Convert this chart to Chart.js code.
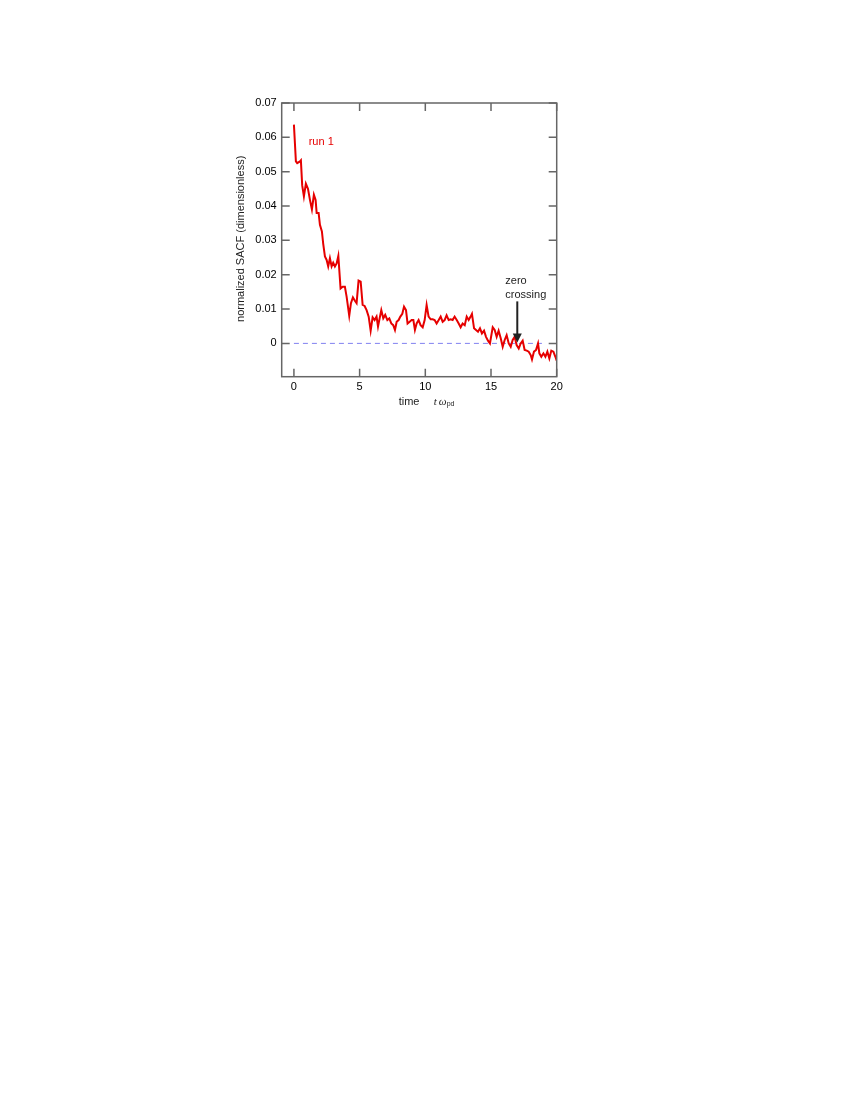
<!DOCTYPE html>
<html>
<head>
<meta charset="utf-8">
<script src="https://cdn.jsdelivr.net/npm/chart.js@4/dist/chart.umd.min.js"></script>
<style>
  body { margin: 0; background: #fff; }
  #chart { position: absolute; left: 200px; top: 80px; }
</style>
</head>
<body>
<canvas id="chart" width="400" height="350" style="width:400px;height:350px"></canvas>
<script>
const timeValues = [
  0, 0.15, 0.25, 0.46, 0.53, 0.63, 0.76, 0.91, 1.07, 1.22, 1.37, 1.52, 1.65, 1.73, 1.88, 1.98,
  2.13, 2.23, 2.36, 2.49, 2.61, 2.74, 2.87, 2.99, 3.12, 3.25, 3.38, 3.55, 3.71, 3.88, 4.01,
  4.21, 4.34, 4.49, 4.64, 4.77, 4.92, 5.08, 5.23, 5.38, 5.53, 5.69, 5.84, 5.99, 6.14, 6.29,
  6.4, 6.55, 6.65, 6.8, 6.95, 7.11, 7.26, 7.41, 7.56, 7.69, 7.82, 7.97, 8.1, 8.25, 8.38,
  8.53, 8.65, 8.81, 8.96, 9.09, 9.21, 9.34, 9.49, 9.64, 9.8, 9.95, 10.1, 10.25, 10.41, 10.56,
  10.71, 10.86, 11.02, 11.17, 11.32, 11.47, 11.62, 11.78, 11.93, 12.08, 12.23, 12.39, 12.54,
  12.69, 12.84, 13.0, 13.15, 13.3, 13.45, 13.55, 13.71, 13.86, 14.01, 14.16, 14.31, 14.47,
  14.62, 14.77, 14.92, 15.13, 15.28, 15.43, 15.58, 15.74, 15.89, 16.04, 16.19, 16.35, 16.5,
  16.65, 16.8, 16.95, 17.11, 17.26, 17.41, 17.56, 17.72, 17.87, 18.02, 18.12, 18.27, 18.43,
  18.58, 18.68, 18.83, 18.99, 19.14, 19.29, 19.44, 19.59, 19.75, 19.9, 20
];
const sacfValues = [
  0.0637, 0.053, 0.0525, 0.053, 0.0533, 0.046, 0.0428, 0.0465, 0.045, 0.0418, 0.039, 0.0433,
  0.0418, 0.038, 0.038, 0.0345, 0.0326, 0.029, 0.0253, 0.0243, 0.0224, 0.0248, 0.0224, 0.0235,
  0.0224, 0.0233, 0.0255, 0.016, 0.0165, 0.0165, 0.0136, 0.008, 0.0117, 0.0134, 0.0124, 0.0117,
  0.0183, 0.018, 0.0112, 0.0109, 0.0097, 0.0078, 0.0037, 0.0076, 0.0068, 0.0078, 0.0049, 0.0078,
  0.0097, 0.0073, 0.0083, 0.0068, 0.0073, 0.0058, 0.0053, 0.0039, 0.0063, 0.0068, 0.0078, 0.0086,
  0.0107, 0.0097, 0.0058, 0.0063, 0.0068, 0.0068, 0.0039, 0.0058, 0.0068, 0.0053, 0.0047, 0.0068,
  0.0112, 0.0078, 0.007, 0.007, 0.0068, 0.0058, 0.0068, 0.0078, 0.0063, 0.0068, 0.0082, 0.0068,
  0.007, 0.0068, 0.0078, 0.0068, 0.0058, 0.0047, 0.0058, 0.0053, 0.0078, 0.0068, 0.0078, 0.0086,
  0.0044, 0.0039, 0.0034, 0.0044, 0.0029, 0.0037, 0.0019, 0.0008, 0.0, 0.0047, 0.0039, 0.0019,
  0.0037, 0.0015, -0.001, 0.001, 0.0024, 0.0, -0.001, 0.001, 0.0019, -0.0005, -0.0015, 0.0,
  0.0008, -0.0019, -0.0021, -0.0024, -0.0034, -0.0047, -0.0024, -0.0019, 0.0, -0.0029, -0.0039,
  -0.0029, -0.0039, -0.0024, -0.0044, -0.0021, -0.0024, -0.0039, -0.005
];
const xTicks = [0, 5, 10, 15, 20];
const yTicks = [0, 0.01, 0.02, 0.03, 0.04, 0.05, 0.06, 0.07];
const zeroLine = [[0, 0], [19, 0]];
const crossingTime = 17;

const points = timeValues.map((t, i) => ({ x: t, y: sacfValues[i] }));

// frame, inward ticks on all four sides, labels, arrow
const decorations = {
  id: 'decorations',
  afterDraw(chart) {
    const { ctx, chartArea: a, scales } = chart;
    const x = scales.x, y = scales.y;
    ctx.save();
    ctx.strokeStyle = '#666';
    ctx.lineWidth = 1.5;
    ctx.strokeRect(a.left, a.top, a.right - a.left, a.bottom - a.top);
    ctx.beginPath();
    xTicks.forEach(v => {
      const px = x.getPixelForValue(v);
      ctx.moveTo(px, a.bottom); ctx.lineTo(px, a.bottom - 8);
      ctx.moveTo(px, a.top); ctx.lineTo(px, a.top + 8);
    });
    yTicks.forEach(v => {
      const py = y.getPixelForValue(v);
      ctx.moveTo(a.left, py); ctx.lineTo(a.left + 8, py);
      ctx.moveTo(a.right, py); ctx.lineTo(a.right - 8, py);
    });
    ctx.stroke();

    // run label
    ctx.fillStyle = '#e60000';
    ctx.font = '11px "Liberation Sans", Arial, sans-serif';
    ctx.textBaseline = 'middle';
    ctx.fillText('run 1', a.left + 27, a.top + 39);

    // axis titles
    ctx.fillStyle = '#222';
    ctx.save();
    ctx.translate(a.left - 41, (a.top + a.bottom) / 2 - 1);
    ctx.rotate(-Math.PI / 2);
    ctx.textAlign = 'center';
    ctx.fillText('normalized SACF (dimensionless)', 0, 0);
    ctx.restore();

    ctx.textAlign = 'left';
    ctx.fillText('time', a.left + 117, a.bottom + 25);
    ctx.font = 'italic 11px "Liberation Serif", "Times New Roman", serif';
    ctx.fillText('t', a.left + 152, a.bottom + 25);
    ctx.fillText('ω', a.left + 157, a.bottom + 25);
    ctx.font = '7px "Liberation Sans", Arial, sans-serif';
    ctx.fillText('pd', a.left + 165, a.bottom + 27);

    // zero crossing arrow
    const ax = x.getPixelForValue(crossingTime);
    const ay = y.getPixelForValue(0);
    ctx.fillStyle = '#222';
    ctx.font = '11px "Liberation Sans", Arial, sans-serif';
    ctx.fillText('zero', ax - 12, ay - 62);
    ctx.fillText('crossing', ax - 12, ay - 48);
    ctx.strokeStyle = '#222';
    ctx.lineWidth = 2;
    ctx.beginPath();
    ctx.moveTo(ax, ay - 42);
    ctx.lineTo(ax, ay - 8);
    ctx.stroke();
    ctx.beginPath();
    ctx.moveTo(ax - 4.5, ay - 10);
    ctx.lineTo(ax + 4.5, ay - 10);
    ctx.lineTo(ax, ay - 1);
    ctx.closePath();
    ctx.fill();
    ctx.restore();
  }
};

new Chart(document.getElementById('chart'), {
  type: 'line',
  data: {
    datasets: [{
      label: 'run 1',
      data: points,
      borderColor: '#e60000',
      borderWidth: 2,
      pointRadius: 0,
      tension: 0
    }, {
      label: 'zero',
      data: zeroLine.map(p => ({ x: p[0], y: p[1] })),
      borderColor: '#8080f0',
      borderWidth: 1,
      borderDash: [5, 4],
      pointRadius: 0
    }]
  },
  options: {
    responsive: false,
    animation: false,
    layout: { padding: { top: 23, right: 43.3, left: 0, bottom: 0 } },
    plugins: { legend: { display: false }, tooltip: { enabled: false } },
    scales: {
      x: {
        type: 'linear',
        min: -0.93,
        max: 20,
        afterBuildTicks: s => { s.ticks = xTicks.map(v => ({ value: v })); },
        afterFit: s => { s.height = 53.3; },
        grid: { display: false, drawTicks: false },
        border: { display: false },
        ticks: {
          padding: 4,
          color: '#000',
          font: { family: '"Liberation Sans", Arial, sans-serif', size: 11 },
          callback: v => String(v)
        }
      },
      y: {
        type: 'linear',
        min: -0.0097,
        max: 0.07,
        afterBuildTicks: s => { s.ticks = yTicks.map(v => ({ value: v })); },
        afterFit: s => { s.width = 81.7; },
        grid: { display: false, drawTicks: false },
        border: { display: false },
        ticks: {
          padding: 5,
          color: '#000',
          font: { family: '"Liberation Sans", Arial, sans-serif', size: 11 },
          callback: v => v === 0 ? '0' : v.toFixed(2)
        }
      }
    }
  },
  plugins: [decorations]
});
</script>
</body>
</html>
